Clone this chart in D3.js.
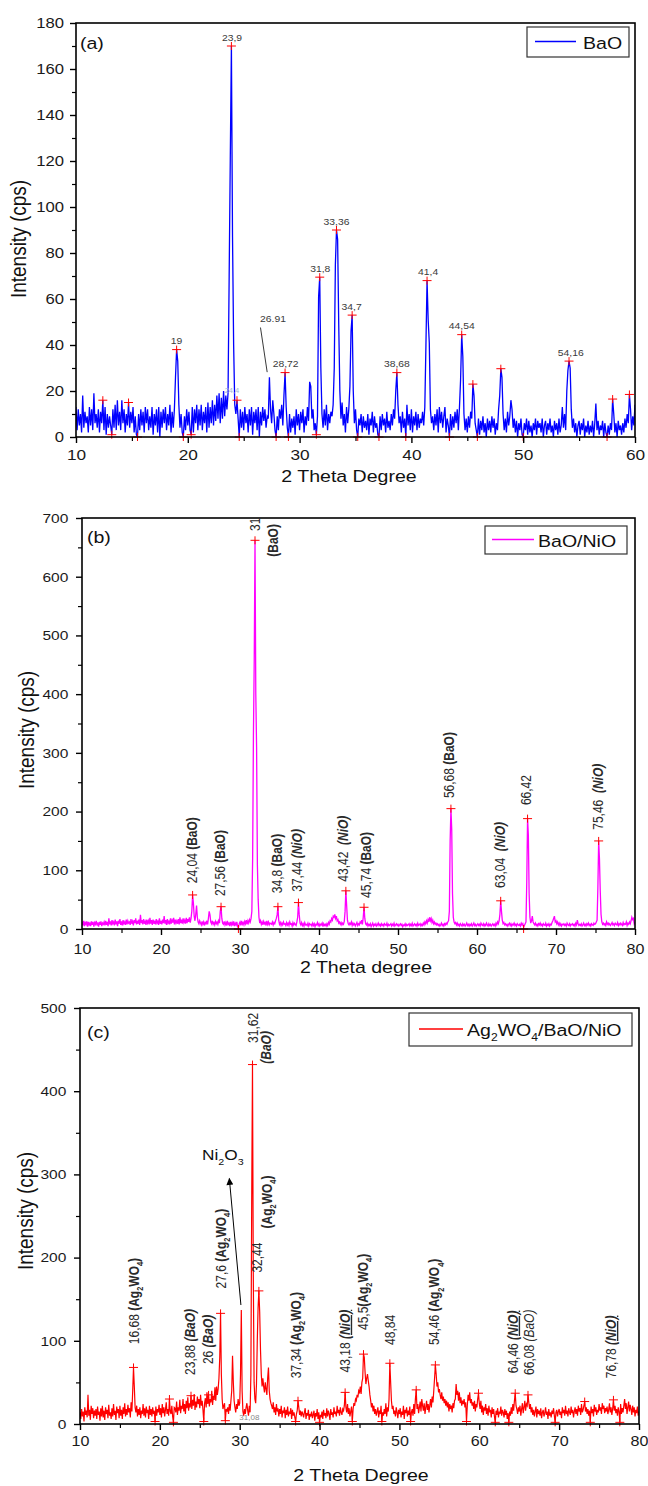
<!DOCTYPE html>
<html><head><meta charset="utf-8">
<script src="https://cdn.jsdelivr.net/npm/d3@7"></script>
<style>body{margin:0;background:#fff}svg{display:block}</style>
</head><body>
<script>
// ---------------- DATA ----------------
const aStart = 10, aStep = 0.1;
const aIntensity = [
13,3,12,5,10,2,18,4,11,6,
9,2,13,5,12,3,19,6,10,4,
12,2,11,6,16,3,13,1,10,4,
9,5,1,12,4,14,3,16,5,11,
3,16,6,12,2,10,5,15,4,11,
6,13,2,9,1,0,10,3,12,5,
11,2,13,6,12,3,9,4,13,1,
10,5,12,2,13,0,11,4,12,6,
13,3,10,5,14,2,11,4,12,26,
38,33,14,4,10,2,0,9,3,12,
5,11,3,1,13,2,12,6,14,3,
12,5,14,3,11,6,13,2,15,4,
13,6,16,5,14,7,18,8,19,6,
17,8,20,9,18,12,19,70,121,170,
87,40,14,10,16,8,0,12,4,11,
3,13,6,10,2,12,5,13,1,11,
6,12,3,13,0,11,5,13,7,12,
4,9,8,26,12,6,16,10,3,0,
9,3,12,8,14,5,18,28,13,4,
0,10,2,8,4,9,1,12,5,10,
3,11,6,12,2,9,5,13,7,24,
22,8,12,3,6,1,9,61,69.5,30,
10,4,12,5,14,3,10,6,11,9,
14,30,75,90,86,49,20,8,15,5,
10,2,13,6,12,22,46,53,20,6,
12,3,0,8,5,10,2,9,4,7,
3,10,1,8,5,11,2,9,4,6,
1,0,9,3,10,5,8,2,11,4,
7,3,10,5,12,8,20,28,14,6,
9,2,11,4,8,0,14,5,10,3,
12,2,9,5,11,3,10,4,8,6,
11,5,13,40,68,51,41,12,6,9,
3,10,5,12,2,13,6,11,4,9,
13,2,8,5,0,10,3,9,4,11,
6,12,3,13,25,44.5,35,10,3,8,
2,9,4,11,8,23,18,6,3,0,
8,1,7,3,9,2,6,0,8,3,
7,2,9,4,8,1,6,3,12,18,
29.7,26,10,3,8,2,11,5,9,16,
12,4,8,2,7,0,6,3,8,1,
0,6,3,8,1,7,2,5,0,6,
3,8,1,7,4,6,2,8,0,5,
7,1,6,3,8,2,5,0,7,3,
6,1,8,2,5,13,4,10,3,20,
29,33,30,12,4,8,2,6,0,5,
7,1,6,3,8,0,5,2,7,1,
5,2,7,0,6,14.5,3,7,1,5,
3,7,0,6,2,0,5,1,6,3,
16.5,10,2,6,0,7,3,5,1,6,
2,8,4,10,6,18.5,12,3,9,5,
14];

const bStart = 10, bStep = 0.1;
const bIntensity = [
12,6,14,5,11,8,13,4,12,7,
10,5,13,7,12,4,11,8,14,6,
11,4,12,7,13,5,10,8,12,6,
14,7,12,5,18,8,13,6,15,9,
12,6,16,8,13,5,14,9,17,7,
13,6,15,9,12,7,16,8,14,10,
12,7,17,9,13,6,15,10,18,8,
14,9,16,7,24,10,15,8,17,9,
13,7,16,10,14,8,19,9,15,7,
16,9,14,8,17,10,13,7,18,9,
14,8,16,10,22,9,15,7,17,10,
13,8,18,9,15,11,19,8,16,10,
14,9,17,8,20,10,16,9,18,11,
15,9,19,10,17,12,20,11,18,30,
58,44,22,14,25,40,20,12,9,14,
10,7,13,8,12,6,11,9,14,8,
18,30,24,12,9,14,8,11,7,13,
9,12,8,14,10,30,38,18,10,8,
13,7,11,6,14,8,10,5,12,7,
11,6,13,5,10,7,12,4,2,9,
12,6,14,8,11,7,13,9,15,8,
14,10,16,12,18,30,120,330,455,662,
400,310,110,50,20,10,14,8,12,7,
13,9,11,6,14,8,12,7,10,9,
8,12,7,11,9,14,18,24,38,15,
8,11,6,10,7,12,8,9,6,11,
7,10,6,12,8,9,5,11,7,10,
8,6,12,20,45,24,10,7,11,6,
9,5,11,7,8,6,10,5,9,7,
8,5,10,6,9,4,8,7,11,6,
9,5,8,7,10,4,9,6,8,5,
9,6,11,8,14,12,18,15,22,20,
25,18,22,14,16,10,12,8,11,7,
10,8,13,30,65,40,15,9,7,10,
8,12,6,10,7,9,5,8,11,6,
9,7,12,10,15,8,20,37,18,9,
7,10,5,8,6,9,4,7,10,5,
8,6,9,5,7,10,6,8,5,9,
6,8,5,9,7,6,10,5,8,6,
7,9,5,8,6,10,5,7,9,6,
8,5,7,9,6,8,4,7,6,9,
5,8,6,7,9,5,8,6,10,5,
7,9,6,8,5,10,6,7,9,5,
8,6,10,7,12,9,14,10,16,12,
20,14,18,11,15,9,12,8,10,7,
9,6,8,5,7,10,6,8,5,9,
7,10,8,12,14,30,150,205,170,60,
20,12,9,11,7,10,6,8,5,9,
7,5,9,6,8,5,7,10,6,8,
5,8,6,9,5,7,10,6,8,5,
7,9,6,8,5,10,7,6,9,5,
8,6,10,7,5,9,6,8,5,7,
9,6,8,5,10,7,12,9,14,25,
48,30,15,9,11,7,9,6,8,5,
8,10,6,9,5,8,7,10,6,8,
5,9,7,6,8,5,10,7,9,3,
6,9,12,80,188,160,60,20,10,14,
22,12,9,7,10,6,8,5,9,7,
10,6,8,5,9,7,6,10,5,8,
6,9,5,8,7,11,14,18,22,12,
14,9,12,7,10,6,9,5,8,7,
9,6,8,5,10,7,6,9,5,8,
7,9,6,8,5,10,7,15,9,6,
8,6,9,5,7,10,6,8,5,9,
7,10,6,8,5,9,7,6,10,8,
9,12,15,70,150,120,65,25,12,8,
10,7,9,6,12,8,10,7,9,6,
8,11,7,9,6,10,8,7,11,6,
9,7,10,8,6,11,7,9,8,12,
6,10,8,12,9,14,20,16,18,9,
12];

const cStart = 10, cStep = 0.1;
const cIntensity = [
14,6,18,9,15,3,20,11,16,8,
35,10,17,5,22,12,19,7,16,10,
18,6,21,11,15,4,19,9,22,8,
16,5,20,12,17,7,23,10,14,6,
19,9,24,11,16,5,21,13,18,7,
22,10,17,6,20,12,25,9,18,11,
23,14,19,8,26,15,40,68,45,20,
14,22,9,18,11,20,7,16,12,24,
10,19,8,21,13,17,6,22,11,18,
9,20,12,16,3,21,10,18,14,23,
11,19,8,24,13,20,9,17,26,12,
18,10,30,15,12,22,9,2,20,19,
14,27,11,20,16,29,13,22,18,30,
15,24,12,28,19,32,16,25,20,34,
18,29,22,36,17,27,20,33,24,30,
19,35,22,28,17,3,25,31,20,38,
24,35,21,30,26,40,23,34,29,44,
28,45,35,42,55,80,133,60,30,18,
22,25,4,18,15,20,12,24,16,28,
40,82,50,28,20,14,24,18,30,22,
25,60,137,40,15,10,18,12,20,25,
16,10,22,14,60,265,432,180,50,30,
25,48,100,140,160,135,90,60,45,55,
45,38,50,42,35,55,68,40,30,25,
22,18,26,14,20,11,24,15,19,9,
18,12,22,8,16,13,20,7,17,11,
21,9,15,12,19,6,17,10,14,8,
3,12,16,28,20,11,16,9,15,12,
8,14,19,6,13,10,17,5,12,9,
15,7,11,16,4,13,9,18,6,14,
2,11,8,15,6,17,10,13,7,19,
9,16,12,5,18,11,14,8,20,12,
15,9,22,13,17,10,20,14,11,18,
16,22,38,20,14,24,12,19,9,15,
21,3,18,25,22,30,28,35,32,40,
38,45,36,50,55,84,80,62,48,55,
60,52,45,35,28,20,25,15,22,12,
18,10,15,20,8,16,12,22,3,14,
10,18,12,25,9,20,15,30,73,50,
28,18,22,12,16,9,20,14,7,17,
12,19,8,15,11,22,6,17,13,20,
9,16,11,21,3,14,18,10,24,12,
30,41,18,24,13,20,27,15,30,22,
16,25,12,20,28,17,24,14,22,30,
20,33,26,40,55,71,60,45,50,38,
42,35,30,38,28,33,25,30,22,28,
20,26,15,24,18,22,14,25,19,28,
30,48,35,40,28,38,25,32,22,28,
24,30,20,26,3,22,35,28,38,25,
30,22,26,18,28,15,24,20,30,37,
25,18,28,14,22,11,20,16,24,12,
19,10,22,14,17,8,20,12,18,9,
2,16,11,19,8,15,12,21,10,17,
14,8,18,11,16,6,13,2,15,10,
20,12,24,16,28,37,22,18,12,20,
15,22,10,18,25,13,20,28,16,24,
22,35,26,18,24,14,20,11,17,9,
15,21,8,18,12,16,10,19,7,14,
17,9,13,20,11,15,6,18,10,14,
8,16,12,19,10,2,14,17,9,15,
18,11,15,7,20,13,17,10,22,12,
16,9,19,14,11,21,13,17,8,15,
20,12,18,10,22,15,19,11,24,14,
17,22,27,15,20,12,18,10,16,2,
21,13,18,9,23,15,20,11,17,14,
24,16,20,12,25,18,22,13,19,15,
21,12,17,25,14,20,11,18,29,16,
22,13,18,10,20,15,2,24,12,19,
14,22,30,18,25,12,20,27,15,23,
18,11,22,14,20,9,17,13,21,10,
15];

// peak-finder markers [2θ, intensity]
const aPeaks = [[12.4,16],[13.2,1],[14.7,15],[15.5,0],[19.0,38],[19.6,0],[20.3,1],[23.9,170],[24.4,16],[24.6,0],[27.9,0],[28.7,28],[29.0,0],[31.5,1],[31.8,69.5],[33.3,90],[34.7,53],[35.2,0],[37.1,0],[38.7,28],[39.5,0],[41.4,68],[43.4,0],[44.5,44.5],[45.5,23],[45.9,0],[48.0,29.7],[50.0,0],[54.1,33],[57.5,0],[58.0,16.5],[59.5,18.5]];
const bPeaks = [[24.0,58],[27.6,38],[29.8,0],[31.9,662],[34.8,38],[37.4,45],[43.4,65],[45.7,37],[56.7,205],[63.0,48],[65.9,0],[66.4,188],[75.4,150]];
const cPeaks = [[16.7,68],[19.4,3],[21.2,30],[21.7,2],[23.9,34],[25.5,3],[26.1,35],[27.6,133],[28.2,4],[31.6,432],[32.4,160],[37.0,3],[37.3,28],[40.0,2],[43.2,38],[44.1,3],[45.5,84],[47.8,3],[48.8,73],[51.4,3],[52.1,41],[54.5,71],[58.4,3],[59.9,37],[62.0,2],[63.7,2],[64.5,37],[66.1,35],[69.5,2],[73.2,27],[73.9,2],[76.8,29],[77.6,2]];

// peak labels
const aLabels = [["19",19.0,38],["23,9",23.95,170],["28,72",28.75,28],["31,8",31.85,69.5],["33,36",33.3,90],["34,7",34.65,53],["38,68",38.7,28],["41,4",41.5,68],["44,54",44.5,44.5],["54,16",54.25,33]];
const bLabels = [["24,04 ","(BaO)",23.92,78,"b"],["27,56 ","(BaO)",27.47,56,"b"],["34,8 ","(BaO)",34.7,61,"b"],["37,44 ","(NiO)",37.28,63.5,"bi"],["43,42  ","(NiO)",43.04,80.6,"bi"],["45,74 ","(BaO)",45.95,53,"b"],["56,68 ","(BaO)",56.53,223,"b"],["63,04  ","(NiO)",62.9,70,"bi"],["66,42","",66.25,211,""],["75,46  ","(NiO)",75.3,169,"bi"],["31,92","",31.9,678,""],["","(BaO)",34.18,634,"b"]];
const cLabels = [["16,68 ","(Ag{2}WO{4})",16.75,96,"b"],["23,88 ","(BaO)",23.77,59,"bi"],["26 ","(BaO)",26.1,72,"bi"],["27,6 ","(Ag{2}WO{4})",27.65,163,"b"],["32,44","",32.15,182,""],["","(Ag{2}WO{4})",33.4,235,"b"],["37,34 ","(Ag{2}WO{4})",37.1,55,"b"],["43,18 ","(NiO)",43.17,62,"biu"],["45,5","(Ag{2}WO{4})",45.5,113,"b"],["48,84","",48.86,95,""],["54,46 ","(Ag{2}WO{4})",54.4,95,"b"],["64,46 ","(NiO)",64.2,61,"biu"],["66,08 ","(BaO)",66.3,59,"i"],["76,78 ","(NiO)",76.5,55,"biu"],["31,62","",31.65,458,""],["","(BaO)",33.35,433,"bi"]];

// ticks
const aXTicks = [10,20,30,40,50,60], aXMinor = [15,25,35,45,55];
const aYTicks = [0,20,40,60,80,100,120,140,160,180], aYMinor = [10,30,50,70,90,110,130,150,170];
const bXTicks = [10,20,30,40,50,60,70,80], bXMinor = [15,25,35,45,55,65,75];
const bYTicks = [0,100,200,300,400,500,600,700], bYMinor = [50,150,250,350,450,550,650];
const cXTicks = [10,20,30,40,50,60,70,80], cXMinor = [15,25,35,45,55,65,75];
const cYTicks = [0,100,200,300,400,500], cYMinor = [50,150,250,350,450];

// ---------------- DRAWING ----------------
const SX = 1.15;
const FONT = "'Liberation Sans', Arial, sans-serif";
const svg = d3.select("body").append("svg").attr("width",648).attr("height",1486).attr("font-family",FONT);
svg.append("rect").attr("width",648).attr("height",1486).attr("fill","#fff");
const defs = svg.append("defs");
defs.append("marker").attr("id","arrow").attr("viewBox","0 0 10 10").attr("refX",9).attr("refY",5)
  .attr("markerWidth",9).attr("markerHeight",7).attr("markerUnits","userSpaceOnUse").attr("orient","auto")
  .append("path").attr("d","M0,0L10,5L0,10Z").attr("fill","#000");

function parseRich(str, style){
  const out=[];
  str.split(/(\{[^}]*\})/).forEach(tok=>{
    if(!tok) return;
    const sub = tok[0]==="{";
    out.push({t: sub? tok.slice(1,-1): tok, sub, b: style.includes("b"), i: style.includes("i"), u: style.includes("u")});
  });
  return out;
}
function rich(parent, x, y, parts, o){
  const t = parent.append("text")
    .attr("transform", `translate(${x},${y}) scale(${SX},1)` + (o.rot? " rotate(-90)":""))
    .attr("font-size", o.size).attr("fill", o.fill||"#111")
    .attr("text-anchor", o.anchor||"start").attr("style","white-space:pre");
  const base = o.shift||0; let cur = 0;
  parts.forEach(p=>{
    const target = base + (p.sub? o.size*0.3 : 0);
    const s = t.append("tspan").text(p.t);
    if (target!==cur) s.attr("dy", target-cur);
    cur = target;
    if(p.sub) s.attr("font-size", o.size*0.62);
    if(p.b) s.attr("font-weight","bold");
    if(p.i) s.attr("font-style","italic");
    if(p.u) s.attr("text-decoration","underline");
  });
  return t;
}

function panel(p){
  const x = d3.scaleLinear().domain(p.xDomain).range([p.left,p.right]);
  const y = d3.scaleLinear().domain(p.yDomain).range([p.bottom,p.top]);
  const g = svg.append("g");
  defs.append("clipPath").attr("id","clip"+p.id).append("rect")
    .attr("x",p.left).attr("y",p.top).attr("width",p.right-p.left).attr("height",p.bottom-p.top);
  const pts = p.values.map((v,i)=>[Math.round((p.start+i*p.step)*100)/100, v]);
  g.append("path").datum(pts).attr("clip-path",`url(#clip${p.id})`)
    .attr("fill","none").attr("stroke",p.color).attr("stroke-width",p.lw)
    .attr("d", d3.line().x(d=>x(d[0])).y(d=>y(d[1])));
  g.selectAll(".pk").data(p.peaks).join("path")
    .attr("transform",d=>`translate(${x(d[0])},${y(d[1])})`)
    .attr("d","M-4.5,0H4.5M0,-4V4").attr("stroke","#ff0000").attr("stroke-width",1).attr("fill","none");
  g.append("rect").attr("x",p.left).attr("y",p.top).attr("width",p.right-p.left).attr("height",p.bottom-p.top)
    .attr("fill","none").attr("stroke","#000").attr("stroke-width",1.6);
  const xa = g.append("g").attr("transform",`translate(0,${p.bottom})`)
    .call(d3.axisBottom(x).tickValues(p.xTicks).tickSizeInner(6).tickSizeOuter(0));
  xa.attr("font-size",null).attr("font-family",null);
  xa.select(".domain").remove();
  xa.selectAll("line").attr("stroke","#000").attr("stroke-width",1.4);
  xa.selectAll("text").attr("y",0).attr("transform",`translate(0,${p.xLabOff}) scale(${SX},1)`)
    .attr("font-size",p.xLabSize).attr("fill","#1a1a1a");
  const xm = g.append("g").attr("transform",`translate(0,${p.bottom})`)
    .call(d3.axisBottom(x).tickValues(p.xMinor).tickSize(4).tickFormat(""));
  xm.select(".domain").remove();
  xm.selectAll("line").attr("stroke","#000").attr("stroke-width",1.2);
  const ya = g.append("g").attr("transform",`translate(${p.left},0)`)
    .call(d3.axisLeft(y).tickValues(p.yTicks).tickSizeInner(6).tickSizeOuter(0));
  ya.attr("font-size",null).attr("font-family",null);
  ya.select(".domain").remove();
  ya.selectAll("line").attr("stroke","#000").attr("stroke-width",1.4);
  ya.selectAll("text").attr("x",0).attr("transform",`translate(${-p.yLabOff},0) scale(${SX},1)`)
    .attr("font-size",p.yLabSize).attr("fill","#1a1a1a");
  const ym = g.append("g").attr("transform",`translate(${p.left},0)`)
    .call(d3.axisLeft(y).tickValues(p.yMinor).tickSize(4).tickFormat(""));
  ym.select(".domain").remove();
  ym.selectAll("line").attr("stroke","#000").attr("stroke-width",1.2);
  rich(g, p.xTitlePos[0], p.xTitlePos[1], [{t:p.xTitle}], {size:17, anchor:"middle", fill:"#111"});
  rich(g, p.yTitlePos[0], p.yTitlePos[1], [{t:"Intensity (cps)"}], {size:19, anchor:"middle", rot:true, fill:"#111"});
  rich(g, p.letterPos[0], p.letterPos[1], [{t:p.letter}], {size:17, fill:"#111"});
  const L = p.legend;
  g.append("rect").attr("x",L.box[0]).attr("y",L.box[1]).attr("width",L.box[2]).attr("height",L.box[3])
    .attr("fill","#fff").attr("stroke","#333").attr("stroke-width",1.2);
  g.append("line").attr("x1",L.line[0]).attr("x2",L.line[1]).attr("y1",L.line[2]).attr("y2",L.line[2])
    .attr("stroke",p.color).attr("stroke-width",1.6);
  rich(g, L.text[0], L.text[1], parseRich(L.label,""), {size:17, fill:"#111"});
  return {g,x,y};
}

// ---- Panel (a)
const A = panel({id:"a", values:aIntensity, start:aStart, step:aStep, xDomain:[10,60], yDomain:[0,180],
  left:76, right:635, top:23, bottom:437, color:"#0000ff", lw:1.3, peaks:aPeaks,
  xTicks:aXTicks, xMinor:aXMinor, yTicks:aYTicks, yMinor:aYMinor,
  xLabOff:12.6, xLabSize:15, yLabOff:12, yLabSize:14.5,
  xTitle:"2 Theta Degree", xTitlePos:[349,481.5], yTitlePos:[26,239], letter:"(a)", letterPos:[80,49],
  legend:{box:[527,27,102,30], line:[535,576,41.5], text:[583,49], label:"BaO"}});
aLabels.forEach(([t,px,py])=>{
  rich(A.g, A.x(px), A.y(py)-5.5, [{t}], {size:9, anchor:"middle", fill:"#3a3a3a"});
});
rich(A.g, A.x(27.62), A.y(50), [{t:"26.91"}], {size:9, anchor:"middle", fill:"#3a3a3a"});
A.g.append("line").attr("x1",A.x(26.5)).attr("y1",A.y(47.6)).attr("x2",A.x(27.1)).attr("y2",A.y(28.2))
  .attr("stroke","#222").attr("stroke-width",0.9);
rich(A.g, A.x(23.95), A.y(19), [{t:"24,4"}], {size:6.5, anchor:"middle", fill:"#9fb6d6"});

// ---- Panel (b)
const B = panel({id:"b", values:bIntensity, start:bStart, step:bStep, xDomain:[10,80], yDomain:[0,700],
  left:82, right:635, top:518, bottom:929, color:"#ff00ff", lw:1.3, peaks:bPeaks,
  xTicks:bXTicks, xMinor:bXMinor, yTicks:bYTicks, yMinor:bYMinor,
  xLabOff:15.5, xLabSize:14, yLabOff:13.7, yLabSize:13.5,
  xTitle:"2 Theta degree", xTitlePos:[366,973], yTitlePos:[34,730], letter:"(b)", letterPos:[87,543],
  legend:{box:[485,526,142,28], line:[492,534,539.5], text:[538,546.5], label:"BaO/NiO"}});
const bLab = B.g.append("g").attr("clip-path","url(#clipb)");
bLabels.forEach(([num,ph,px,py,st])=>{
  const parts = (num? [{t:num}]:[]).concat(parseRich(ph,st));
  rich(bLab, B.x(px), B.y(py), parts, {size:12, rot:true, shift:4.2, fill:"#2a2a2a"});
});

// ---- Panel (c)
const C = panel({id:"c", values:cIntensity, start:cStart, step:cStep, xDomain:[10,80], yDomain:[0,500],
  left:80, right:639, top:1008, bottom:1424, color:"#ff0000", lw:1.2, peaks:cPeaks,
  xTicks:cXTicks, xMinor:cXMinor, yTicks:cYTicks, yMinor:cYMinor,
  xLabOff:12, xLabSize:14, yLabOff:13.7, yLabSize:13.5,
  xTitle:"2 Theta Degree", xTitlePos:[361,1481], yTitlePos:[33,1211], letter:"(c)", letterPos:[87,1038],
  legend:{box:[409,1013,223,33], line:[419,463,1029], text:[467,1035.5], label:"Ag{2}WO{4}/BaO/NiO"}});
cLabels.forEach(([num,ph,px,py,st])=>{
  const parts = (num? [{t:num}]:[]).concat(parseRich(ph,st));
  rich(C.g, C.x(px), C.y(py), parts, {size:12, rot:true, shift:4.2, fill:"#2a2a2a"});
});
rich(C.g, C.x(31.2), C.y(5), [{t:"31,08"}], {size:7, anchor:"middle", fill:"#8a8a8a"});
C.g.append("line").attr("x1",C.x(30.15)).attr("y1",C.y(143)).attr("x2",C.x(28.7)).attr("y2",C.y(295))
  .attr("stroke","#000").attr("stroke-width",1).attr("marker-end","url(#arrow)");
rich(C.g, 202, 1160, parseRich("Ni{2}O{3}",""), {size:15, fill:"#111"});
</script>
</body></html>
